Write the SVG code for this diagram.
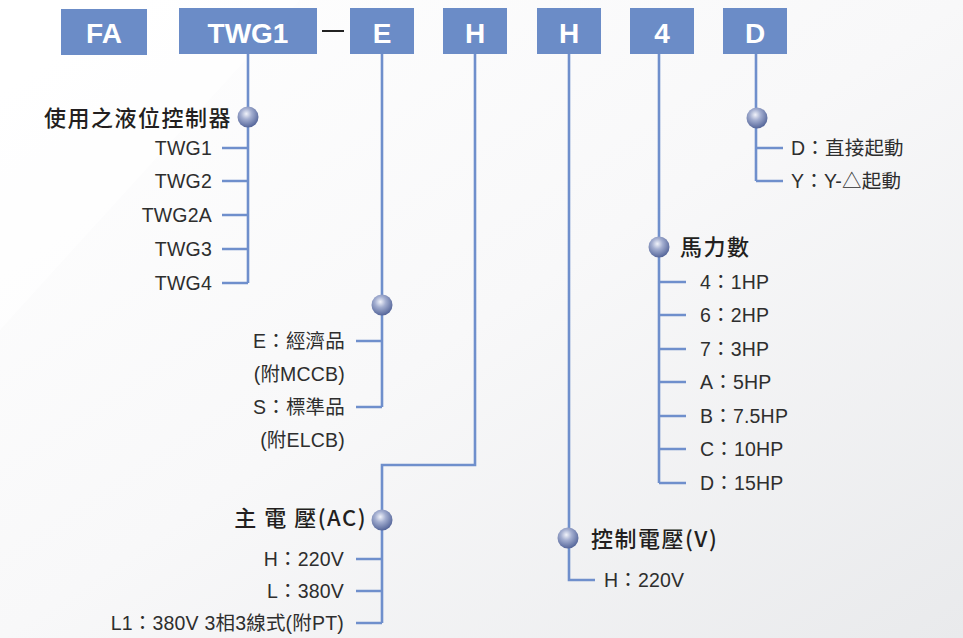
<svg xmlns="http://www.w3.org/2000/svg" width="963" height="638" viewBox="0 0 963 638">
<defs>
<linearGradient id="bg" x1="0" y1="0" x2="1" y2="1">
<stop offset="0" stop-color="#ffffff"/>
<stop offset="0.5" stop-color="#f8f8f9"/>
<stop offset="1" stop-color="#e9eaec"/>
</linearGradient>
<radialGradient id="ball" cx="0.42" cy="0.35" r="0.65">
<stop offset="0" stop-color="#f1f3fa"/>
<stop offset="0.4" stop-color="#a3aed0"/>
<stop offset="1" stop-color="#55669a"/>
</radialGradient>
<style>
.box{fill:#6b8cc7}
.bt{fill:#ffffff;font-family:"Liberation Sans",Arial,sans-serif;font-weight:bold;font-size:28px;text-anchor:middle}
.ln{fill:none;stroke:#6f8fcc;stroke-width:2.6}
.ball{fill:url(#ball)}
.ttl{fill:#231f20;font-family:"Noto Sans CJK TC","Liberation Sans",sans-serif;font-size:22px;font-weight:500;letter-spacing:1.5px}
.it{fill:#2e2e2e;font-family:"Liberation Sans","Noto Sans CJK TC",sans-serif;font-size:19.5px;letter-spacing:0.2px}
.r{text-anchor:end}
</style>
</defs>
<rect width="963" height="638" fill="url(#bg)"/>
<polygon points="0,0 300,0 0,330" fill="#ffffff" opacity="0.6"/>

<g id="connectors">
<path class="ln" d="M248 54 V283 M222 148 H248 M222 181 H248 M222 215 H248 M222 249 H248 M222 283 H248"/>
<path class="ln" d="M382 54 V407 M356 341 H382 M356 407 H382"/>
<path class="ln" d="M475 54 V465 H382 V623 M356 559 H382 M356 591 H382 M356 623 H382"/>
<path class="ln" d="M569 54 V580 H595"/>
<path class="ln" d="M659 54 V483 M659 282 H686 M659 315 H686 M659 349 H686 M659 382 H686 M659 416 H686 M659 449 H686 M659 483 H686"/>
<path class="ln" d="M756 54 V181 M756 148 H783 M756 181 H783"/>
<line x1="322" y1="31" x2="344" y2="31" stroke="#222" stroke-width="2"/>
</g>

<g id="box-fa"><rect class="box" x="61" y="9" width="86" height="46"/><text class="bt" x="104" y="43">FA</text></g>
<g id="box-twg1"><rect class="box" x="179" y="8" width="138" height="46"/><text class="bt" x="248" y="43">TWG1</text></g>
<g id="box-e"><rect class="box" x="350" y="8" width="64" height="46"/><text class="bt" x="382" y="43">E</text></g>
<g id="box-h1"><rect class="box" x="443" y="8" width="64" height="46"/><text class="bt" x="475" y="43">H</text></g>
<g id="box-h2"><rect class="box" x="537" y="8" width="64" height="46"/><text class="bt" x="569" y="43">H</text></g>
<g id="box-4"><rect class="box" x="630" y="8" width="64" height="46"/><text class="bt" x="662" y="43">4</text></g>
<g id="box-d"><rect class="box" x="723" y="8" width="64" height="46"/><text class="bt" x="755" y="43">D</text></g>

<g id="node-controller">
<circle class="ball" cx="248" cy="117" r="10.5"/>
<text class="ttl r" x="232" y="125.5">使用之液位控制器</text>
<text class="it r" x="212" y="155">TWG1</text>
<text class="it r" x="212" y="188">TWG2</text>
<text class="it r" x="212" y="222">TWG2A</text>
<text class="it r" x="212" y="256">TWG3</text>
<text class="it r" x="212" y="290">TWG4</text>
</g>

<g id="node-type">
<circle class="ball" cx="382" cy="305" r="10.5"/>
<text class="it r" x="345" y="348">E：經濟品</text>
<text class="it r" x="345" y="381">(附MCCB)</text>
<text class="it r" x="345" y="414">S：標準品</text>
<text class="it r" x="345" y="447">(附ELCB)</text>
</g>

<g id="node-main-voltage">
<circle class="ball" cx="382" cy="520" r="10.5"/>
<text class="ttl r" x="367" y="525.5">主 電 壓(AC)</text>
<text class="it r" x="344" y="565.5">H：220V</text>
<text class="it r" x="344" y="597.5">L：380V</text>
<text class="it r" x="344" y="629.5">L1：380V 3相3線式(附PT)</text>
</g>

<g id="node-control-voltage">
<circle class="ball" cx="568" cy="538" r="10.5"/>
<text class="ttl" x="591" y="546.5">控制電壓(V)</text>
<text class="it" x="604" y="587">H：220V</text>
</g>

<g id="node-hp">
<circle class="ball" cx="659" cy="247" r="10.5"/>
<text class="ttl" x="680" y="254.5">馬力數</text>
<text class="it" x="700" y="288.5">4：1HP</text>
<text class="it" x="700" y="321.5">6：2HP</text>
<text class="it" x="700" y="355.5">7：3HP</text>
<text class="it" x="700" y="388.5">A：5HP</text>
<text class="it" x="700" y="422.5">B：7.5HP</text>
<text class="it" x="700" y="455.5">C：10HP</text>
<text class="it" x="700" y="489.5">D：15HP</text>
</g>

<g id="node-start">
<circle class="ball" cx="757" cy="118" r="10.5"/>
<text class="it" x="791" y="154.5">D：直接起動</text>
<text class="it" x="791" y="187.5">Y：Y-△起動</text>
</g>
</svg>
